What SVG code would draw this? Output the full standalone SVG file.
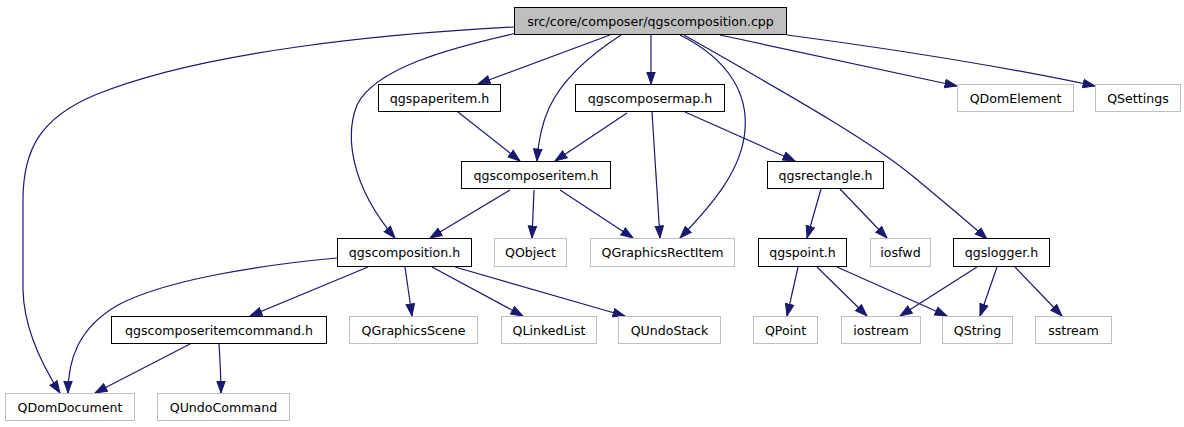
<svg xmlns="http://www.w3.org/2000/svg" width="1184" height="427" viewBox="0 0 1184 427">
<style>
.n rect{fill:#fff;stroke:#000;stroke-width:1}
.u rect{fill:#fff;stroke:#bfbfbf;stroke-width:1}
.top rect{fill:#bfbfbf;stroke:#000;stroke-width:1}
text{font-family:"DejaVu Sans","Liberation Sans",sans-serif;font-size:12.6px;fill:#000;text-anchor:middle}
#edges path{fill:none;stroke:#191970;stroke-width:1.2;marker-end:url(#ah)}
</style>
<defs>
<marker id="ah" markerUnits="userSpaceOnUse" markerWidth="14" markerHeight="11" refX="12.5" refY="4.75" orient="auto" viewBox="0 0 14 10">
<path d="M0.5,0.5 L12.5,4.75 L0.5,9 z" fill="#191970" stroke="#191970" stroke-width="1"/>
</marker>
</defs>
<rect x="0" y="0" width="1184" height="427" fill="#fff"/>
<g id="edges">
<path d="M514,27 C380,34 200,52 95,95 C40,118 23,150 23,200 L23,290 C24,330 42,365 60,393"/>
<path d="M517,33 C450,48 375,68 357,105 C345,135 350,185 395,238"/>
<path d="M610,35 L478,84"/>
<path d="M621,35 C590,55 562,80 549,108 C540,128 538,145 537,161"/>
<path d="M651,35 L651,84"/>
<path d="M680,35 C730,60 748,95 745,130 C742,170 712,205 680,238"/>
<path d="M684,35 C780,90 870,140 915,178 C945,203 968,222 987,239"/>
<path d="M720,35 C800,52 880,70 957,86"/>
<path d="M787,35 C900,50 1010,68 1095,86"/>
<path d="M458,112 L520,161"/>
<path d="M627,113 L555,161"/>
<path d="M652,112 L660,238"/>
<path d="M685,112 L795,161"/>
<path d="M510,190 L430,238"/>
<path d="M534,190 L532,238"/>
<path d="M560,190 L633,238"/>
<path d="M821,189 L807,238"/>
<path d="M840,189 L887,238"/>
<path d="M337,258 C260,265 165,280 118,305 C78,328 68,360 68,393"/>
<path d="M368,267 L250,316"/>
<path d="M405,267 L412,316"/>
<path d="M432,267 L523,316"/>
<path d="M455,267 L625,316"/>
<path d="M798,267 L787,316"/>
<path d="M817,267 L867,316"/>
<path d="M837,267 L947,316"/>
<path d="M977,267 L900,316"/>
<path d="M997,267 L980,316"/>
<path d="M1015,267 L1062,316"/>
<path d="M190,344 L95,393"/>
<path d="M219,344 C220,360 221,375 221,393"/>
</g>
<g id="node_top" class="top"><rect x="514.5" y="7.5" width="272" height="27"/><text x="650.5" y="25.5">src/core/composer/qgscomposition.cpp</text></g>
<g id="node_qgspaperitem" class="n"><rect x="378.5" y="84.5" width="122" height="27"/><text x="439.5" y="102.5">qgspaperitem.h</text></g>
<g id="node_qgscomposermap" class="n"><rect x="575.5" y="84.5" width="149" height="27"/><text x="650" y="102.5">qgscomposermap.h</text></g>
<g id="node_QDomElement" class="u"><rect x="957.5" y="84.5" width="116" height="27"/><text x="1015.5" y="102.5">QDomElement</text></g>
<g id="node_QSettings" class="u"><rect x="1095.5" y="84.5" width="85" height="27"/><text x="1138" y="102.5">QSettings</text></g>
<g id="node_qgscomposeritem" class="n"><rect x="461.5" y="161.5" width="149" height="27"/><text x="536" y="179.5">qgscomposeritem.h</text></g>
<g id="node_qgsrectangle" class="n"><rect x="767.5" y="161.5" width="116" height="27"/><text x="825.5" y="179.5">qgsrectangle.h</text></g>
<g id="node_qgscomposition" class="n"><rect x="337.5" y="238.5" width="134" height="28"/><text x="404.5" y="257">qgscomposition.h</text></g>
<g id="node_QObject" class="u"><rect x="494.5" y="238.5" width="72" height="28"/><text x="530.5" y="257">QObject</text></g>
<g id="node_QGraphicsRectItem" class="u"><rect x="590.5" y="238.5" width="144" height="28"/><text x="662.5" y="257">QGraphicsRectItem</text></g>
<g id="node_qgspoint" class="n"><rect x="758.5" y="238.5" width="88" height="28"/><text x="802.5" y="257">qgspoint.h</text></g>
<g id="node_iosfwd" class="u"><rect x="870.5" y="238.5" width="60" height="28"/><text x="900.5" y="257">iosfwd</text></g>
<g id="node_qgslogger" class="n"><rect x="953.5" y="238.5" width="96" height="28"/><text x="1001.5" y="257">qgslogger.h</text></g>
<g id="node_qgscomposeritemcommand" class="n"><rect x="111.5" y="316.5" width="215" height="27"/><text x="219" y="334.5">qgscomposeritemcommand.h</text></g>
<g id="node_QGraphicsScene" class="u"><rect x="349.5" y="316.5" width="128" height="27"/><text x="413.5" y="334.5">QGraphicsScene</text></g>
<g id="node_QLinkedList" class="u"><rect x="501.5" y="316.5" width="95" height="27"/><text x="549" y="334.5">QLinkedList</text></g>
<g id="node_QUndoStack" class="u"><rect x="618.5" y="316.5" width="102" height="27"/><text x="669.5" y="334.5">QUndoStack</text></g>
<g id="node_QPoint" class="u"><rect x="753.5" y="316.5" width="64" height="27"/><text x="785.5" y="334.5">QPoint</text></g>
<g id="node_iostream" class="u"><rect x="841.5" y="316.5" width="79" height="27"/><text x="881" y="334.5">iostream</text></g>
<g id="node_QString" class="u"><rect x="942.5" y="316.5" width="70" height="27"/><text x="977.5" y="334.5">QString</text></g>
<g id="node_sstream" class="u"><rect x="1035.5" y="316.5" width="76" height="27"/><text x="1073.5" y="334.5">sstream</text></g>
<g id="node_QDomDocument" class="u"><rect x="5.5" y="393.5" width="129" height="27"/><text x="70" y="411.5">QDomDocument</text></g>
<g id="node_QUndoCommand" class="u"><rect x="157.5" y="393.5" width="132" height="27"/><text x="223.5" y="411.5">QUndoCommand</text></g>
</svg>
